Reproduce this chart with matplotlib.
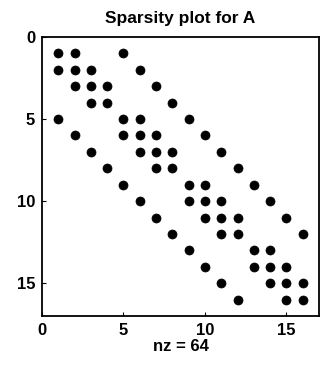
import numpy as np
import matplotlib.pyplot as plt

plt.rcParams['font.family'] = ['Liberation Sans', 'DejaVu Sans']

# nonzero pattern of A, row by row (1-based column indices)
rows_cols = {
    1: [1, 2, 5],
    2: [1, 2, 3, 6],
    3: [2, 3, 4, 7],
    4: [3, 4, 8],
    5: [1, 5, 6, 9],
    6: [2, 5, 6, 7, 10],
    7: [3, 6, 7, 8, 11],
    8: [4, 7, 8, 12],
    9: [5, 9, 10, 13],
    10: [6, 9, 10, 11, 14],
    11: [7, 10, 11, 12, 15],
    12: [8, 11, 12, 16],
    13: [9, 13, 14],
    14: [10, 13, 14, 15],
    15: [11, 14, 15, 16],
    16: [12, 15, 16],
}
n = 16
ticks = [0, 5, 10, 15]

A = np.zeros((n, n))
for r, cols in rows_cols.items():
    for c in cols:
        A[r - 1, c - 1] = 1
ri, ci = np.nonzero(A)

fig = plt.figure(figsize=(3.29, 3.66), dpi=100)
ax = fig.add_axes([42 / 329, 1 - 316 / 366, 277 / 329, 279 / 366])
ax.plot(ci + 1, ri + 1, 'o', color='black', markersize=6.5, markeredgewidth=0.5,
        linestyle='none')
ax.set_xlim(0, n + 1)
ax.set_ylim(n + 1, 0)
ax.set_xticks(ticks)
ax.set_yticks(ticks)
ax.tick_params(direction='in', length=3, labelsize=12, pad=5)
for lab in ax.get_xticklabels() + ax.get_yticklabels():
    lab.set_fontweight('bold')
for s in ax.spines.values():
    s.set_linewidth(1.3)
ax.set_title('Sparsity plot for A', fontsize=12.5, fontweight='bold', pad=10)
ax.set_xlabel('nz = %d' % len(ri), fontsize=12, fontweight='bold', labelpad=1)

fig.savefig('out.png', dpi=100)
